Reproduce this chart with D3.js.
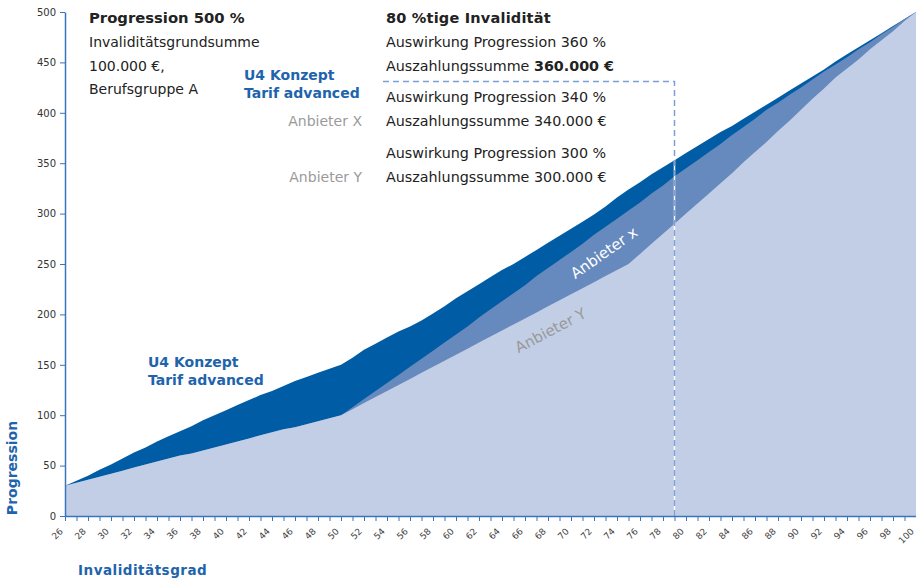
<!DOCTYPE html>
<html>
<head>
<meta charset="utf-8">
<script src="https://cdn.jsdelivr.net/npm/d3@7"></script>
<style>
  body { margin: 0; background: #fff; }
  svg text { font-family: "DejaVu Sans", Verdana, sans-serif; }
</style>
</head>
<body>
<script>
// Invaliditätsgrad 26..100
const degrees = [26,27,28,29,30,31,32,33,34,35,36,37,38,39,40,41,42,43,44,45,46,47,48,49,50,
  51,52,53,54,55,56,57,58,59,60,61,62,63,64,65,66,67,68,69,70,71,72,73,74,75,
  76,77,78,79,80,81,82,83,84,85,86,87,88,89,90,91,92,93,94,95,96,97,98,99,100];

const u4Values = [30,35,40,46,51,57,63,68,74,79,84,89,95,100,105,110,115,120,124,129,134,138,142,146,150,
  157,165,171,177,183,188,194,201,208,216,223,230,237,244,250,257,264,271,278,285,292,299,307,316,324,
  331,339,346,353,360,367,374,381,387,394,401,408,415,422,429,436,443,451,458,465,472,479,486,493,500];

const anbieterXValues = [30,33,36,39,42,45,48,51,54,57,60,62,65,68,71,74,77,80,83,86,88,91,94,97,100,
  108,116,124,132,140,148,156,164,172,180,188,197,205,213,221,229,238,246,254,262,270,279,287,295,303,
  311,320,328,337,345,353,361,369,378,386,394,403,410,418,425,433,441,448,455,463,470,478,485,493,500];

const anbieterYValues = [30,33,36,39,42,45,48,51,54,57,60,62,65,68,71,74,77,80,83,86,88,91,94,97,100,
  106,112,118,124,130,136,142,148,154,160,166,172,178,184,190,196,202,208,214,220,226,232,238,244,250,
  260,270,280,290,300,310,320,330,340,351,361,371,382,392,403,414,424,435,444,453,463,472,481,491,500];

const yTicks = [0,50,100,150,200,250,300,350,400,450,500];
const markerDegree = 79;
const markerValue = 431;

const w = 916, h = 579;
const blue = "#3b74ba";

const x = d3.scaleLinear().domain([26, 100]).range([65, 916]);
const y = d3.scaleLinear().domain([0, 500]).range([516, 12]);

const svg = d3.select("body").append("svg")
  .attr("width", w)
  .attr("height", h);

const series = [
  { values: u4Values, color: "#005ca4" },
  { values: anbieterXValues, color: "#6689be" },
  { values: anbieterYValues, color: "#c2cee6" }
];

series.forEach(s => {
  const area = d3.area()
    .x((d, i) => x(degrees[i]))
    .y0(y(0))
    .y1(d => y(d));
  svg.append("path")
    .datum(s.values)
    .attr("d", area)
    .attr("fill", s.color);
});

// dashed marker
const dash = svg.append("g");
dash.append("path")
  .attr("d", `M${x(markerDegree)},${y(0)}V${y(markerValue)}`)
  .attr("stroke", "#fff").attr("stroke-width", 1.5).attr("fill", "none");
dash.append("path")
  .attr("d", `M383,${y(markerValue)}H${x(markerDegree)}V${y(0)}`)
  .attr("stroke", "#7d9fd4").attr("stroke-width", 1.5)
  .attr("stroke-dasharray", "6,4").attr("fill", "none");

// axes
const yAxis = d3.axisLeft(y).tickValues(yTicks).tickSize(5).tickSizeOuter(0).tickPadding(4);
const gy = svg.append("g").attr("transform", `translate(${x(26)},0)`).call(yAxis);
gy.select(".domain").attr("stroke", blue).attr("stroke-width", 1.5);
gy.selectAll(".tick line").attr("stroke", blue);
gy.selectAll(".tick text").attr("fill", "#333").style("font-size", "10px");

const xAxis = d3.axisBottom(x).tickValues(degrees).tickSize(5).tickSizeOuter(0)
  .tickFormat(d => d % 2 === 0 ? d : "");
const gx = svg.append("g").attr("transform", `translate(0,${y(0)})`).call(xAxis);
gx.select(".domain").attr("stroke", blue).attr("stroke-width", 1.5);
gx.selectAll(".tick line").attr("stroke", blue);
gx.selectAll(".tick text")
  .attr("fill", "#444")
  .style("font-size", "9px")
  .attr("x", 0).attr("y", 0).attr("dy", 0)
  .attr("text-anchor", "end")
  .attr("transform", "translate(-2,16) rotate(-45)");

// axis titles
svg.append("text")
  .attr("transform", "translate(17,468) rotate(-90)")
  .attr("text-anchor", "middle")
  .attr("fill", "#1e64ad")
  .style("font-size", "14px").style("font-weight", "bold")
  .text("Progression");

svg.append("text")
  .attr("x", 78).attr("y", 575)
  .attr("fill", "#1e64ad")
  .style("font-size", "13.5px").style("font-weight", "bold")
  .style("letter-spacing", "0.5px")
  .text("Invaliditätsgrad");

// text blocks
function line(xp, yp, txt, opts = {}) {
  const t = svg.append("text")
    .attr("x", xp).attr("y", yp)
    .attr("fill", opts.color || "#222")
    .attr("text-anchor", opts.anchor || "start")
    .style("font-size", (opts.size || 14) + "px")
    .style("font-weight", opts.bold ? "bold" : "normal");
  if (opts.spacing) t.style("letter-spacing", opts.spacing);
  if (opts.rotate) t.attr("transform", `rotate(${opts.rotate},${xp},${yp})`);
  return t.text(txt);
}

line(89, 23, "Progression 500 %", { bold: true, size: 14.8 });
line(89, 47, "Invaliditätsgrundsumme");
line(89, 71, "100.000 €,");
line(89, 94, "Berufsgruppe A");

line(386, 23, "80 %tige Invalidität", { bold: true, size: 14.5, spacing: "0.2px" });
line(386, 47, "Auswirkung Progression 360 %", { size: 14.3 });
const pay = line(386, 71, "Auszahlungssumme ", { size: 14.3 });
pay.append("tspan").style("font-weight", "bold").text("360.000 €");
line(386, 102, "Auswirkung Progression 340 %", { size: 14.3 });
line(386, 126, "Auszahlungssumme 340.000 €", { size: 14.3 });
line(386, 158, "Auswirkung Progression 300 %", { size: 14.3 });
line(386, 182, "Auszahlungssumme 300.000 €", { size: 14.3 });

line(244, 80, "U4 Konzept", { bold: true, color: "#1e64ad" });
line(244, 98, "Tarif advanced", { bold: true, color: "#1e64ad" });
line(362, 126, "Anbieter X", { color: "#9a9a9a", anchor: "end" });
line(362, 182, "Anbieter Y", { color: "#9a9a9a", anchor: "end" });

line(148, 367, "U4 Konzept", { bold: true, color: "#1e64ad" });
line(148, 385, "Tarif advanced", { bold: true, color: "#1e64ad" });

line(607, 257, "Anbieter x", { color: "#fff", anchor: "middle", rotate: -35, size: 15 });
line(553, 335, "Anbieter Y", { color: "#999", anchor: "middle", rotate: -28, size: 15 });
</script>
</body>
</html>
